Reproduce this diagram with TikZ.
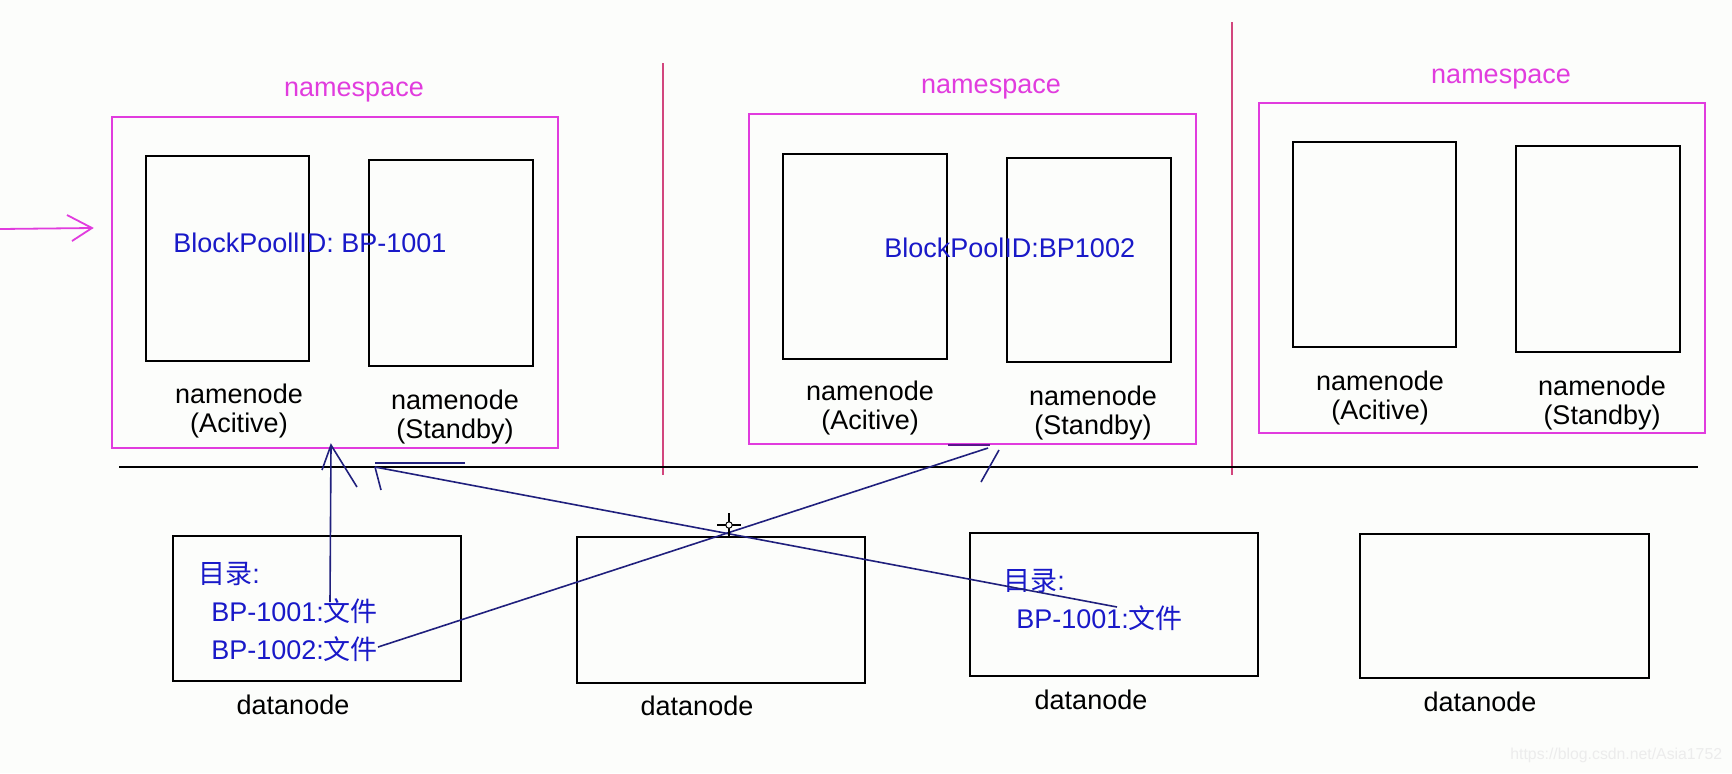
\documentclass[tikz,border=0pt]{standalone}
\usepackage{fontspec}
\setmainfont{Liberation Sans}
\newfontfamily\cjk{Noto Sans CJK SC}
\usetikzlibrary{fit}
\definecolor{mag}{RGB}{225,60,222}
\definecolor{divc}{RGB}{210,70,125}
\definecolor{bluet}{RGB}{25,25,200}
\definecolor{navy}{RGB}{32,32,125}
\definecolor{wmark}{RGB}{236,236,236}
\definecolor{bg}{RGB}{252,253,251}
\begin{document}
\begin{tikzpicture}[x=0.5pt,y=-0.5pt,
  every node/.style={font=\fontsize{13.5pt}{14.5pt}\selectfont, inner sep=0pt},
  nsbox/.style={draw=mag, line width=1pt, inner sep=0pt},
  nnbox/.style={draw=black, line width=1pt, inner sep=0pt},
  dnbox/.style={draw=black, line width=1pt, inner sep=0pt},
  nslabel/.style={text=mag},
  lbl/.style={text=black, align=center},
  bluetxt/.style={text=bluet, anchor=west},
  divider/.style={draw=divc, line width=1.2pt},
  conn/.style={draw=navy, line width=0.8pt},
  pinkarrow/.style={draw=mag, line width=0.9pt}]
\fill[bg] (0,0) rectangle (1732,773);
\useasboundingbox (0,0) rectangle (1732,773);

% namespace 1
\node[nslabel] (ns1t) at (354,92) {namespace};
\node[nsbox, fit={(112,117) (558,448)}] (ns1) {};
\node[nnbox, fit={(146,156) (309,361)}] (nn1a) {};
\node[nnbox, fit={(369,160) (533,366)}] (nn1b) {};
\node[lbl] (nn1al) at (239,411) {namenode\\(Acitive)};
\node[lbl] (nn1bl) at (455,417) {namenode\\(Standby)};
\node[bluetxt] (bp1) at (173,243) {BlockPoollID: BP-1001};

% namespace 2
\node[nslabel] (ns2t) at (991,89) {namespace};
\node[nsbox, fit={(749,114) (1196,444)}] (ns2) {};
\node[nnbox, fit={(783,154) (947,359)}] (nn2a) {};
\node[nnbox, fit={(1007,158) (1171,362)}] (nn2b) {};
\node[lbl] (nn2al) at (870,408) {namenode\\(Acitive)};
\node[lbl] (nn2bl) at (1093,413) {namenode\\(Standby)};
\node[bluetxt] (bp2) at (884,248) {BlockPoolID:BP1002};

% namespace 3
\node[nslabel] (ns3t) at (1501,79) {namespace};
\node[nsbox, fit={(1259,103) (1705,433)}] (ns3) {};
\node[nnbox, fit={(1293,142) (1456,347)}] (nn3a) {};
\node[nnbox, fit={(1516,146) (1680,352)}] (nn3b) {};
\node[lbl] (nn3al) at (1380,398) {namenode\\(Acitive)};
\node[lbl] (nn3bl) at (1602,403) {namenode\\(Standby)};

% dividers and base line
\coordinate (d1t) at (663,63);  \coordinate (d1b) at (663,475);
\coordinate (d2t) at (1232,22); \coordinate (d2b) at (1232,475);
\draw[divider] (d1t) -- (d1b);
\draw[divider] (d2t) -- (d2b);
\coordinate (hl) at (119,467); \coordinate (hr) at (1698,467);
\draw[black, line width=0.8pt] (hl) -- (hr);

% left pink arrow
\coordinate (pa0) at (0,229); \coordinate (pa1) at (92,228);
\coordinate (pa2) at (67,215); \coordinate (pa3) at (72,241);
\draw[pinkarrow] (pa0) -- (pa1);
\draw[pinkarrow] (pa2) -- (pa1) -- (pa3);

% datanodes
\node[dnbox, fit={(173,536) (461,681)}] (dn1) {};
\node[dnbox, fit={(577,537) (865,683)}] (dn2) {};
\node[dnbox, fit={(970,533) (1258,676)}] (dn3) {};
\node[dnbox, fit={(1360,534) (1649,678)}] (dn4) {};
\node (dn1l) at (293,705) {datanode};
\node (dn2l) at (697,706) {datanode};
\node (dn3l) at (1091,700) {datanode};
\node (dn4l) at (1480,702) {datanode};

\node[bluetxt] (dir1) at (198,574) {{\cjk 目录}:};
\node[bluetxt] (f11) at (211,611) {BP-1001:{\cjk 文件}};
\node[bluetxt] (f12) at (211,649) {BP-1002:{\cjk 文件}};
\node[bluetxt] (dir3) at (1003,581) {{\cjk 目录}:};
\node[bluetxt] (f31) at (1016,618) {BP-1001:{\cjk 文件}};

% connector 1: datanode1 BP-1001 -> namenode active 1
\coordinate (c1s) at (330,602);
\coordinate (c1t) at (331,445);
\coordinate (c1a) at (322,470);
\coordinate (c1b) at (357,487);
\draw[conn] (c1s) -- (c1t);
\draw[conn] (c1a) -- (c1t) -- (c1b);

% connector 2: datanode3 BP-1001 -> namespace 1
\coordinate (c2s) at (1117,607);
\coordinate (c2t) at (375,467);
\coordinate (c2h0) at (375,463);
\coordinate (c2h1) at (465,463);
\coordinate (c2d) at (381,490);
\draw[conn] (c2s) -- (c2t);
\draw[conn] (c2h1) -- (c2h0);
\draw[conn] (c2t) -- (c2d);

% connector 3: datanode1 BP-1002 -> namespace 2
\coordinate (c3s) at (378,647);
\coordinate (c3t) at (988,448);
\coordinate (c3h0) at (948,445);
\coordinate (c3h1) at (990,445);
\coordinate (c3a0) at (999,450);
\coordinate (c3a1) at (981,482);
\draw[conn] (c3s) -- (c3t);
\draw[draw={rgb,255:red,90;green,20;blue,140}, line width=1.2pt] (c3h0) -- (c3h1);
\draw[conn] (c3a0) -- (c3a1);

% cursor
\coordinate (cur) at (729,525);
\draw[black, line width=0.6pt] ([xshift=-6pt]cur) -- ([xshift=6pt]cur)
  ([yshift=-6pt]cur) -- ([yshift=6pt]cur);
\draw[black, line width=0.5pt, fill=white] (cur) circle (1.6pt);

% watermark
\node[text=wmark, font=\fontsize{7.9pt}{9pt}\selectfont, anchor=west] (wm) at (1510,755) {https://blog.csdn.net/Asia1752};
\end{tikzpicture}
\end{document}
